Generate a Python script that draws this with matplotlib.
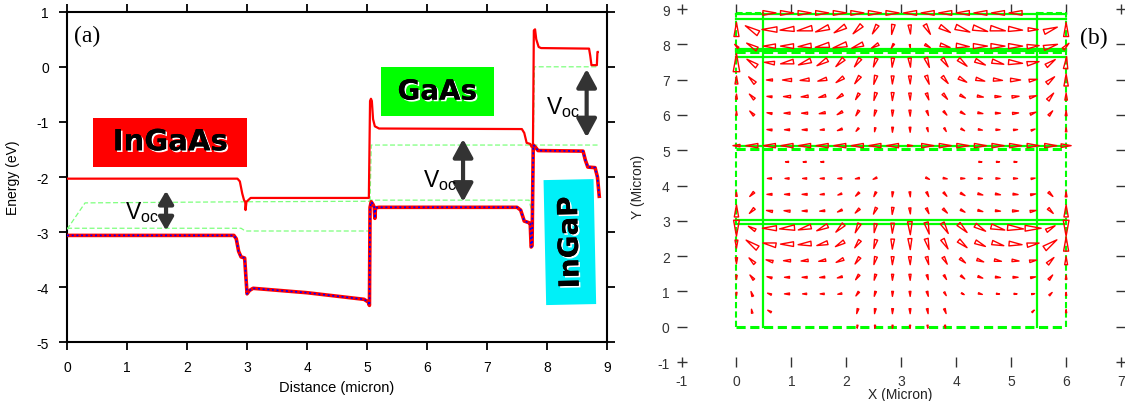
import numpy as np
import matplotlib
matplotlib.use('Agg')
from matplotlib import pyplot as plt
from matplotlib import patheffects as pe
from matplotlib.collections import PolyCollection
from matplotlib.patches import Rectangle
from matplotlib.transforms import IdentityTransform

plt.rcParams['font.family'] = ['Liberation Sans', 'DejaVu Sans']
plt.rcParams['mathtext.fontset'] = 'custom'
plt.rcParams['mathtext.rm'] = 'Liberation Sans'
plt.rcParams['axes.unicode_minus'] = False

## (a) band diagram
ec_x = [0.0, 2.84, 2.88, 2.92, 2.95, 2.97, 2.975, 2.99, 3.02, 3.06, 5.03, 5.05, 5.065,
        5.08, 5.1, 5.13, 5.2, 7.58, 7.62, 7.66, 7.72, 7.74, 7.765, 7.78, 7.8, 7.82,
        7.86, 7.9, 8.7, 8.72, 8.74, 8.83, 8.84, 8.845]
ec_e = [-2.03, -2.03, -2.08, -2.3, -2.42, -2.45, -2.6, -2.45, -2.42, -2.38, -2.38, -0.62,
        -0.58, -0.62, -0.95, -1.08, -1.12, -1.13, -1.2, -1.38, -1.4, -1.45, -1.42, 0.66,
        0.68, 0.5, 0.36, 0.34, 0.33, 0.2, 0.03, 0.03, 0.27, 0.27]

ev_x = [0.0, 2.78, 2.82, 2.86, 2.9, 2.96, 2.98, 3.0, 3.04, 3.1, 4.0, 4.95, 5.02, 5.04,
        5.05, 5.07, 5.1, 5.12, 5.13, 5.14, 5.2, 7.5, 7.56, 7.62, 7.7, 7.72, 7.735, 7.75,
        7.77, 7.8, 7.85, 8.6, 8.64, 8.68, 8.8, 8.84, 8.87]
ev_e = [-3.06, -3.06, -3.12, -3.35, -3.45, -3.47, -3.8, -4.12, -4.06, -4.02, -4.1, -4.22,
        -4.27, -4.33, -2.55, -2.45, -2.5, -2.55, -2.75, -2.56, -2.55, -2.55, -2.6, -2.8,
        -2.83, -2.85, -3.27, -3.25, -1.42, -1.45, -1.52, -1.53, -1.7, -1.82, -1.83, -2.0,
        -2.35]

# quasi-Fermi levels (green dashed)
qf_bot_n_x = [0.0, 0.3, 2.9, 5.04, 5.06, 7.7, 7.74]
qf_bot_n_e = [-2.95, -2.47, -2.45, -2.44, -2.42, -2.42, -2.6]
qf_bot_p_x = [0.0, 2.9, 2.97, 5.04]
qf_bot_p_e = [-2.93, -2.93, -2.98, -2.98]
qf_mid_x = [5.05, 5.07, 8.85]
qf_mid_e = [-2.44, -1.42, -1.42]
qf_top_x = [7.77, 7.79, 8.85]
qf_top_e = [-1.42, 0.0, 0.0]

# Voc arrows: x, top, bottom
voc_x = [1.65, 6.6, 8.66]
voc_top = [-2.25, -1.31, -0.04]
voc_bot = [-2.97, -2.45, -1.28]
voc_lab_x = [0.97, 5.94, 7.99]
voc_lab_e = [-2.62, -2.04, -0.73]

## (b) current vectors
col_x = [0.0, 0.28, 0.6, 0.92, 1.24, 1.56, 1.88, 2.2, 2.52, 2.84,
         3.16, 3.48, 3.8, 4.12, 4.44, 4.76, 5.08, 5.4, 5.72, 6.0]
row_y = [8.89, 8.42, 7.95, 7.48, 6.99, 6.52, 6.05, 5.58, 5.13, 4.67,
         4.2, 3.75, 3.28, 2.79, 2.34, 1.87, 1.4, 0.93, 0.44, 0.0]
arrow_len = [
    [0, 0, 13, 13, 13, 13, 13, 13, 13, 13, 13, 13, 13, 13, 13, 13, 13, 0, 0, 0],
    [14, 15, 15, 14, 15, 14, 13, 12, 10, 10, 9, 11, 12, 15, 15, 15, 14, 10, 14, 14],
    [5, 12, 12, 13, 13, 14, 14, 12, 8, 5, 3, 6, 10, 13, 14, 14, 14, 12, 14, 8],
    [18, 12, 10, 13, 13, 12, 11, 10, 9, 9, 9, 10, 10, 11, 11, 12, 14, 12, 11, 12],
    [8, 9, 6, 9, 9, 9, 9, 9, 9, 8, 8, 9, 9, 9, 9, 9, 10, 8, 10, 12],
    [5, 7, 5, 7, 7, 7, 7, 7, 8, 8, 7, 7, 7, 6, 6, 6, 7, 7, 9, 7],
    [4, 6, 5, 6, 6, 6, 6, 6, 6, 6, 6, 5, 5, 5, 5, 5, 6, 6, 6, 5],
    [0, 0, 5, 5, 5, 4, 5, 4, 4, 5, 5, 4, 4, 4, 4, 4, 4, 4, 0, 4],
    [7, 12, 12, 12, 12, 12, 12, 12, 12, 12, 5, 12, 12, 12, 12, 12, 12, 12, 12, 10],
    [0, 0, 0, 3, 3, 3, 0, 0, 0, 0, 0, 0, 0, 0, 3, 3, 3, 0, 0, 0],
    [0, 0, 4, 4, 4, 4, 4, 4, 4, 0, 0, 4, 4, 4, 4, 4, 4, 4, 0, 0],
    [4, 6, 5, 5, 5, 4, 4, 5, 5, 5, 5, 5, 5, 5, 5, 5, 5, 5, 6, 5],
    [12, 7, 6, 6, 5, 5, 5, 6, 7, 7, 6, 6, 6, 5, 5, 5, 6, 6, 7, 12],
    [16, 8, 14, 15, 13, 12, 11, 10, 9, 10, 13, 12, 12, 12, 12, 14, 16, 16, 10, 16],
    [8, 14, 13, 13, 13, 11, 10, 9, 9, 10, 11, 11, 11, 11, 11, 12, 13, 12, 15, 14],
    [6, 8, 7, 7, 7, 7, 8, 8, 8, 8, 8, 8, 8, 7, 7, 7, 7, 7, 9, 8],
    [4, 6, 5, 5, 5, 5, 5, 6, 6, 6, 6, 5, 5, 5, 5, 5, 5, 5, 6, 4],
    [3, 5, 4, 5, 4, 4, 4, 5, 5, 5, 5, 5, 4, 3, 4, 3, 3, 3, 4, 3],
    [0, 4, 4, 0, 0, 0, 0, 5, 5, 5, 5, 5, 5, 0, 0, 0, 0, 3, 0, 3],
    [0, 0, 0, 0, 0, 0, 0, 3, 3, 3, 3, 3, 3, 0, 0, 0, 0, 0, 0, 0],
]
arrow_ang = [
    [0, 0, 0, 0, 0, 0, 0, 0, 0, 0, 180, 180, 180, 180, 180, 180, 180, 0, 0, 0],
    [90, 150, 180, 185, 190, 200, 210, 225, 240, 260, 275, 300, 330, 340, 345, 350, 355, 0, 20, 90],
    [135, 150, 180, 180, 185, 190, 195, 200, 210, 240, 280, 330, 345, 355, 0, 0, 0, 5, 15, 45],
    [90, 145, 175, 190, 200, 210, 225, 235, 250, 265, 275, 290, 305, 320, 335, 345, 355, 10, 35, 85],
    [90, 135, 180, 180, 185, 195, 215, 235, 255, 268, 272, 290, 310, 330, 345, 355, 0, 10, 40, 90],
    [90, 135, 175, 180, 185, 195, 215, 240, 255, 268, 272, 290, 310, 330, 350, 0, 5, 15, 50, 90],
    [90, 135, 170, 180, 180, 190, 210, 240, 255, 268, 272, 290, 310, 330, 350, 0, 5, 20, 50, 90],
    [0, 0, 175, 180, 180, 185, 200, 230, 260, 268, 272, 285, 300, 330, 350, 0, 5, 20, 0, 90],
    [180, 180, 180, 180, 180, 180, 180, 180, 180, 180, 0, 0, 0, 0, 0, 0, 0, 0, 0, 0],
    [0, 0, 0, 180, 180, 180, 0, 0, 0, 0, 0, 0, 0, 0, 0, 0, 0, 0, 0, 0],
    [0, 0, 180, 180, 180, 180, 180, 190, 205, 0, 0, 335, 350, 0, 0, 0, 0, 10, 0, 0],
    [90, 225, 180, 180, 180, 185, 200, 225, 245, 265, 275, 295, 310, 330, 345, 350, 355, 10, 315, 90],
    [90, 225, 170, 175, 180, 185, 205, 225, 245, 265, 275, 295, 315, 330, 345, 355, 0, 10, 315, 90],
    [270, 150, 180, 185, 195, 205, 225, 245, 260, 268, 272, 285, 300, 315, 330, 345, 355, 0, 30, 270],
    [270, 145, 170, 180, 185, 195, 210, 235, 255, 268, 272, 285, 300, 320, 335, 345, 355, 10, 35, 90],
    [270, 135, 165, 180, 185, 190, 205, 235, 255, 268, 272, 285, 300, 320, 340, 350, 355, 10, 45, 90],
    [270, 130, 165, 180, 180, 185, 195, 235, 255, 268, 272, 285, 300, 320, 340, 355, 0, 10, 50, 90],
    [270, 110, 160, 180, 180, 180, 190, 235, 255, 268, 272, 285, 300, 330, 345, 355, 0, 10, 45, 90],
    [0, 100, 150, 0, 0, 0, 0, 255, 262, 268, 272, 280, 290, 0, 0, 0, 0, 45, 0, 90],
    [0, 0, 0, 0, 0, 0, 0, 265, 265, 268, 272, 275, 280, 0, 0, 0, 0, 0, 0, 0],
]

# device outline
solid_h = [8.85, 8.73, 7.86, 7.8, 7.65, 5.13, 3.02, 2.92]
dashed_h = [7.78, 5.04, 0.0]
solid_v = [0.49, 5.47]
dashed_v = [0.0, 6.0]
x_left, x_right, y_bot, y_top = 0.0, 6.0, 0.0, 8.9

GREEN = '#00ff00'

fig = plt.figure(figsize=(11.25, 4.02), dpi=100)

# ---------------- (a)
ax1 = fig.add_axes([0.0596, 0.146, 0.48, 0.8224])
ax1.plot(ec_x, ec_e, '-', color='red', lw=1.6, zorder=4)
ax1.plot(ev_x, ev_e, '-', color='red', lw=2.6, zorder=4)
ax1.plot(ev_x, ev_e, color='blue', lw=1.2, dashes=(1.2, 1.6), zorder=5)
for xs, es in [(qf_bot_n_x, qf_bot_n_e), (qf_bot_p_x, qf_bot_p_e),
               (qf_mid_x, qf_mid_e), (qf_top_x, qf_top_e)]:
    ax1.plot(xs, es, color='#7dff7d', lw=0.9, dashes=(4, 2), zorder=3)

for i, (x, t, b) in enumerate(zip(voc_x, voc_top, voc_bot)):
    hw, hl = (0.22, 0.38) if i == 0 else (0.3, 0.55)
    ax1.annotate('', xy=(x, t), xytext=(x, b),
                 arrowprops=dict(arrowstyle='<|-|>,head_length=%g,head_width=%g' % (hl, hw),
                                 lw=3, color='#333333', mutation_scale=20,
                                 shrinkA=0, shrinkB=0), zorder=6)
    ax1.text(voc_lab_x[i], voc_lab_e[i], r'V$_{\rm oc}$', fontsize=16.5,
             ha='left', va='center', zorder=6)

shadow = [pe.withSimplePatchShadow(offset=(1.2, -1.2), shadow_rgbFace='white', alpha=1.0),
          pe.Normal()]
ax1.add_patch(Rectangle((0.43, -1.82), 2.57, 0.89, facecolor='red', edgecolor='none', zorder=2))
ax1.text(1.72, -1.37, 'InGaAs', family='DejaVu Sans', weight='bold', fontsize=21,
         ha='center', va='center', path_effects=shadow, zorder=3)
ax1.add_patch(Rectangle((5.23, -0.9), 1.89, 0.9, facecolor=GREEN, edgecolor='none', zorder=2))
ax1.text(6.17, -0.45, 'GaAs', family='DejaVu Sans', weight='bold', fontsize=20,
         ha='center', va='center', path_effects=shadow, zorder=3)

ax1.set_xlim(0, 9)
ax1.set_ylim(-5, 1)
ax1.set_xticks(range(0, 10))
ax1.set_yticks(range(-5, 2))
ax1.tick_params(direction='out', length=6, width=1.3, pad=7, labelsize=10,
                top=True, right=True)
for s in ax1.spines.values():
    s.set_linewidth(1.5)
ax1.set_xlabel('Distance (micron)', fontsize=10.5)
ax1.set_ylabel('Energy (eV)', fontsize=10)
ax1.xaxis.set_label_coords(0.5, -0.115)
ax1.yaxis.set_label_coords(-0.087, 0.5)
ax1.text(0.12, 0.56, '(a)', family=['Liberation Serif', 'DejaVu Serif'], fontsize=17,
         ha='left', va='center')

# InGaP label box, slightly tilted
cx, cy = ax1.transData.transform((8.38, -3.19))
ax1.add_patch(Rectangle((cx - 25, cy - 62), 50, 125, angle=1.2, rotation_point='center',
                        transform=IdentityTransform(), facecolor='#00f0f8',
                        edgecolor='none', zorder=2, clip_on=False))
ax1.text(8.38, -3.19, 'InGaP', family='DejaVu Sans', weight='bold', fontsize=20,
         rotation=91.2, ha='center', va='center', path_effects=shadow, zorder=3)

# ---------------- (b)
ax2 = fig.add_axes([0.6058, 0.097, 0.3907, 0.878])
ax2.set_xlim(-1, 7)
ax2.set_ylim(-1, 9)
for s in ax2.spines.values():
    s.set_visible(False)

for y in solid_h:
    ax2.plot([x_left, x_right], [y, y], '-', color=GREEN, lw=1.6, zorder=2)
for y in dashed_h:
    ax2.plot([x_left, x_right], [y, y], color=GREEN, lw=2.2, dashes=(3, 1.5), zorder=2)
for x in solid_v:
    ax2.plot([x, x], [y_bot, y_top], '-', color=GREEN, lw=1.6, zorder=2)
for x in dashed_v:
    ax2.plot([x, x], [y_bot, y_top], color=GREEN, lw=1.5, dashes=(3, 1.5), zorder=2)
ax2.plot([x_left, solid_v[0]], [y_top, y_top], color=GREEN, lw=2.2, dashes=(2, 1), zorder=2)
ax2.plot([solid_v[1], x_right], [y_top, y_top], color=GREEN, lw=2.2, dashes=(2, 1), zorder=2)

L = np.array(arrow_len, float)
A = np.deg2rad(np.array(arrow_ang, float))
X, Y = np.meshgrid(col_x, row_y)
m = L > 0
verts = []
for l, a in zip(L[m], A[m]):
    d = np.array([np.cos(a), np.sin(a)])
    n = np.array([-d[1], d[0]])
    tip = 0.5 * l * d
    base = -0.5 * l * d
    verts.append([tip, base + 0.18 * l * n, base - 0.18 * l * n])
pc = PolyCollection(verts, offsets=np.column_stack([X[m], Y[m]]),
                    offset_transform=ax2.transData, transform=IdentityTransform(),
                    facecolors='none', edgecolors='red', linewidths=1.0, zorder=3)
ax2.add_collection(pc)

ax2.set_xticks(range(-1, 8))
ax2.set_yticks(range(-1, 10))
ax2.tick_params(direction='inout', length=7, width=1, colors='#333333', pad=5,
                labelsize=10, top=True, right=True, labeltop=False, labelright=False)
ax2.set_xlabel('X (Micron)', fontsize=10, color='#222222')
ax2.set_ylabel('Y (Micron)', fontsize=10, color='#222222')
ax2.xaxis.set_label_coords(0.497, -0.071)
ax2.yaxis.set_label_coords(-0.083, 0.5)
ax2.text(6.25, 8.2, '(b)', family=['Liberation Serif', 'DejaVu Serif'], fontsize=17,
         ha='left', va='center')

fig.savefig('out.png', dpi=100)
